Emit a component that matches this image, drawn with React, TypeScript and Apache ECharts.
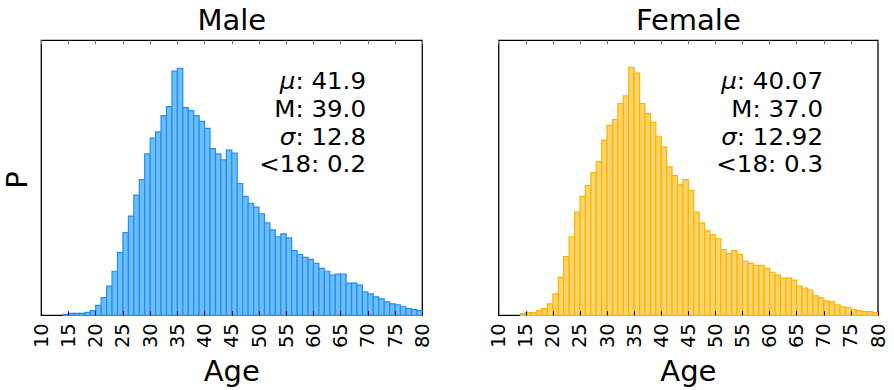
import React, { useEffect, useRef } from "react";
import * as echarts from "echarts";

// Bin starts (ages), bin width 1
const binStarts = [
  14, 15, 16, 17, 18, 19, 20, 21, 22, 23, 24, 25, 26, 27, 28, 29, 30, 31, 32, 33,
  34, 35, 36, 37, 38, 39, 40, 41, 42, 43, 44, 45, 46, 47, 48, 49, 50, 51, 52, 53,
  54, 55, 56, 57, 58, 59, 60, 61, 62, 63, 64, 65, 66, 67, 68, 69, 70, 71, 72, 73,
  74, 75, 76, 77, 78, 79,
];

// Relative bar heights (probability density, arbitrary units)
const maleValues = [
  3, 6, 6, 6, 9, 14, 30,
  54, 89, 134, 191, 252, 302, 366, 413, 491, 539,
  558, 608, 635, 743, 752, 632, 623, 608, 590, 569,
  507, 491, 473, 503, 494, 401, 362, 341, 329, 309,
  281, 260, 239, 248, 236, 197, 185, 176, 170, 158,
  143, 134, 122, 125, 125, 98, 98, 92, 71, 65,
  56, 50, 41, 35, 32, 26, 20, 17, 14,
];

const femaleValues = [
  5, 8, 8, 14, 20, 35, 65,
  116, 179, 239, 314, 362, 395, 434, 467, 533, 578,
  596, 644, 668, 755, 737, 644, 614, 587, 545, 512,
  452, 425, 398, 413, 380, 314, 281, 257, 245, 233,
  200, 188, 197, 185, 164, 158, 152, 152, 143, 131,
  122, 113, 113, 107, 89, 83, 77, 59, 53, 44,
  41, 32, 26, 23, 17, 14, 11, 11, 8,
];

const panelTitles = ["Male", "Female"];
const maleStats = [
  ["μ", ": 41.9"],
  ["", "M: 39.0"],
  ["σ", ": 12.8"],
  ["", "<18: 0.2"],
];
const femaleStats = [
  ["μ", ": 40.07"],
  ["", "M: 37.0"],
  ["σ", ": 12.92"],
  ["", "<18: 0.3"],
];

const X_MIN = 10;
const X_MAX = 80;
const X_INTERVAL = 5;
const Y_MAX = 837;

const FONT = "DejaVu Sans";

export default function App() {
  const ref = useRef<HTMLDivElement>(null);

  useEffect(() => {
    if (!ref.current) return;
    const chart = echarts.init(ref.current, null, { renderer: "svg" });

    const grids = [
      { left: 41.3, top: 40.3, width: 381, height: 279 },
      { left: 498.7, top: 40.3, width: 379.3, height: 279 },
    ];

    const xAxes: any[] = [];
    const yAxes: any[] = [];
    grids.forEach((_, i) => {
      xAxes.push({
        gridIndex: i,
        type: "value",
        min: X_MIN,
        max: X_MAX,
        interval: X_INTERVAL,
        position: "bottom",
        z: 10,
        axisLine: { show: false },
        axisTick: { show: true, inside: true, length: 4, lineStyle: { color: "#000", width: 1 } },
        axisLabel: { rotate: 90, fontSize: 19.5, color: "#000", margin: 8, fontFamily: FONT },
        splitLine: { show: false },
        name: "Age",
        nameLocation: "middle",
        nameGap: 24,
        nameTextStyle: { fontSize: 29, color: "#000", fontFamily: FONT },
      });
      xAxes.push({
        gridIndex: i,
        type: "value",
        min: X_MIN,
        max: X_MAX,
        interval: X_INTERVAL,
        position: "top",
        z: 10,
        axisLine: { show: false },
        axisTick: { show: true, inside: true, length: 4, lineStyle: { color: "#777", width: 1 } },
        axisLabel: { show: false },
        splitLine: { show: false },
      });
      yAxes.push({
        gridIndex: i,
        type: "value",
        min: 0,
        max: Y_MAX,
        axisLine: { show: false },
        axisTick: { show: false },
        axisLabel: { show: false },
        splitLine: { show: false },
      });
    });

    const makeSeries = (vals: number[], idx: number, fill: string, stroke: string) => ({
      type: "custom",
      xAxisIndex: idx * 2,
      yAxisIndex: idx,
      data: binStarts.map((a, k) => [a, vals[k]]),
      encode: { x: 0, y: 1 },
      renderItem: (params: any, api: any) => {
        const a = api.value(0);
        const h = api.value(1);
        const p0 = api.coord([a, 0]);
        const p1 = api.coord([a + 1, h]);
        return {
          type: "rect",
          shape: { x: p0[0], y: p1[1], width: p1[0] - p0[0], height: p0[1] - p1[1] },
          style: { fill, stroke, lineWidth: 1.2 },
        };
      },
    });

    const statTexts = (stats: string[][], rightX: number) =>
      stats.map((s, k) => ({
        type: "text",
        x: rightX,
        y: 81.7 + k * 27.7,
        scaleX: 1.09,
        style: {
          text: (s[0] ? `{i|${s[0]}}` : "") + `{n|${s[1]}}`,
          align: "right",
          verticalAlign: "middle",
          fill: "#000",
          fontSize: 22.5,
          fontFamily: FONT,
          rich: {
            i: { fontSize: 22.5, fontFamily: FONT, fontStyle: "italic", fill: "#000" },
            n: { fontSize: 22.5, fontFamily: FONT, fill: "#000" },
          },
        },
      }));

    chart.setOption({
      animation: false,
      backgroundColor: "#fff",
      grid: grids.map((g) => ({ ...g, show: true, borderColor: "#000", borderWidth: 1.3, backgroundColor: "transparent" })),
      xAxis: xAxes,
      yAxis: yAxes,
      series: [
        makeSeries(maleValues, 0, "#6ebdfb", "#1e8ff5"),
        makeSeries(femaleValues, 1, "#ffd46a", "#ffb300"),
      ],
      graphic: [
        {
          type: "text",
          x: 231.8,
          y: 20,
          style: { text: panelTitles[0], fontSize: 29, fontFamily: FONT, fill: "#000", align: "center", verticalAlign: "middle" },
        },
        {
          type: "text",
          x: 688.3,
          y: 20,
          style: { text: panelTitles[1], fontSize: 29, fontFamily: FONT, fill: "#000", align: "center", verticalAlign: "middle" },
        },
        {
          type: "text",
          x: 17,
          y: 180,
          rotation: Math.PI / 2,
          style: { text: "P", fontSize: 29, fontFamily: FONT, fill: "#000", align: "center", verticalAlign: "middle" },
        },
        ...statTexts(maleStats, 366),
        ...statTexts(femaleStats, 823),
      ],
    });

    return () => chart.dispose();
  }, []);

  return <div ref={ref} style={{ width: 894, height: 390, position: "absolute", left: 0, top: 0 }} />;
}
